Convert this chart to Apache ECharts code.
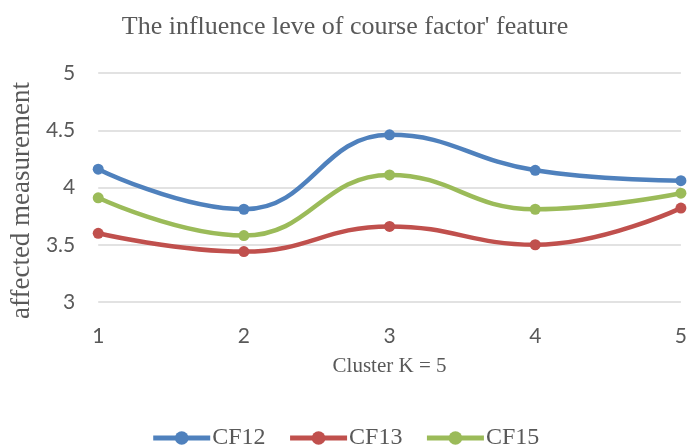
<!DOCTYPE html>
<html>
<head>
<meta charset="utf-8">
<script src="https://cdn.jsdelivr.net/npm/echarts@6/dist/echarts.min.js"></script>
<style>
  html, body { margin: 0; padding: 0; background: #fff; }
  #chart { width: 690px; height: 446px; }
</style>
</head>
<body>
<div id="chart"></div>
<script>
// values
const clusters = ['1', '2', '3', '4', '5'];
const cf12 = [4.16, 3.81, 4.46, 4.15, 4.06];
const cf13 = [3.60, 3.44, 3.66, 3.50, 3.82];
const cf15 = [3.91, 3.58, 4.11, 3.81, 3.95];

const serif = '"Liberation Serif", "DejaVu Serif", serif';
const sans = 'Lato, "Noto Sans", sans-serif';
const textColor = '#595959';

function makeSeries(name, data, color) {
  return {
    name: name,
    type: 'line',
    data: data,
    smooth: 0.45,
    symbol: 'circle',
    symbolSize: 11,
    itemStyle: { color: color },
    lineStyle: { width: 4.5, color: color },
    emphasis: { disabled: true },
  };
}

const chart = echarts.init(document.getElementById('chart'));
chart.setOption({
  animation: false,
  title: {
    text: "The influence leve of course factor' feature",
    left: 'center',
    top: 9,
    textStyle: { fontFamily: serif, fontSize: 26, fontWeight: 'normal', color: textColor },
  },
  legend: {
    bottom: -9,
    left: 'center',
    itemWidth: 57,
    itemHeight: 17,
    itemGap: 22,
    lineStyle: { width: 5 },
    textStyle: { fontFamily: serif, fontSize: 24, color: textColor, padding: [0, 0, 0, -3] },
    data: ['CF12', 'CF13', 'CF15'],
  },
  grid: { left: 95, right: 5, top: 73, bottom: 144 },
  xAxis: {
    type: 'category',
    data: clusters,
    boundaryGap: false,
    name: 'Cluster K = 5',
    nameLocation: 'middle',
    nameGap: 54,
    nameTextStyle: { fontFamily: serif, fontSize: 21, color: textColor },
    axisLine: { show: false },
    axisTick: { show: false },
    axisLabel: { fontFamily: sans, fontSize: 21, color: textColor, margin: 24 },
  },
  yAxis: {
    type: 'value',
    min: 3,
    max: 5,
    interval: 0.5,
    name: 'affected measurement',
    nameLocation: 'middle',
    nameGap: 58,
    nameTextStyle: { fontFamily: serif, fontSize: 27, color: textColor, padding: [0, 26, 0, 0] },
    axisLine: { show: false },
    axisTick: { show: false },
    axisLabel: { fontFamily: sans, fontSize: 21, color: textColor, margin: 23 },
    splitLine: { lineStyle: { color: '#d9d9d9', width: 1.5 } },
  },
  series: [
    makeSeries('CF12', cf12, '#4f81bd'),
    makeSeries('CF13', cf13, '#c0504d'),
    makeSeries('CF15', cf15, '#9bbb59'),
  ],
});
</script>
</body>
</html>
